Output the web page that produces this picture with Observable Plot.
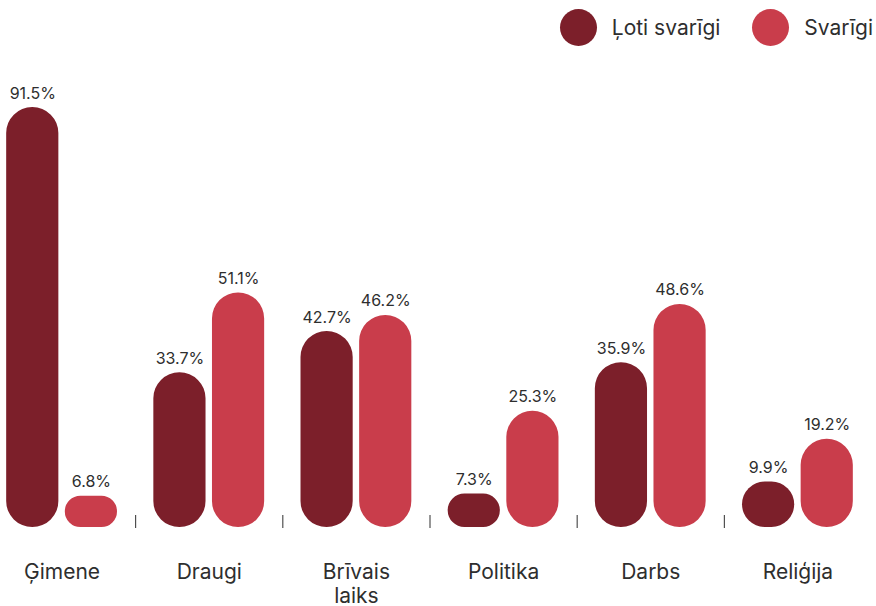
<!DOCTYPE html>
<html>
<head>
<meta charset="utf-8">
<script src="https://cdn.jsdelivr.net/npm/d3@7"></script>
<script src="https://cdn.jsdelivr.net/npm/@observablehq/plot@0.6"></script>
<style>
  html, body { margin: 0; padding: 0; background: #fff; }
  body { width: 876px; height: 606px; overflow: hidden; font-family: Inter, "Noto Sans", sans-serif; color: #2e2e2e; }
  #legend { height: 54px; display: flex; justify-content: flex-end; align-items: center; padding-right: 3px; box-sizing: border-box; }
  .item { display: flex; align-items: center; margin-left: 32px; font-size: 21px; }
  .dot { width: 37px; height: 37px; border-radius: 50%; margin-right: 15px; }
</style>
</head>
<body>
<div id="legend"></div>
<div id="chart"></div>
<script>
const categories = ["Ģimene", "Draugi", "Brīvais laiks", "Politika", "Darbs", "Reliģija"];
const series = ["Ļoti svarīgi", "Svarīgi"];
const veryImportant = [91.5, 33.7, 42.7, 7.3, 35.9, 9.9];
const important = [6.8, 51.1, 46.2, 25.3, 48.6, 19.2];
const colors = ["#7c1f2a", "#c93d4b"];

const data = categories.flatMap((c, i) => [
  {category: c, series: series[0], value: veryImportant[i]},
  {category: c, series: series[1], value: important[i]}
]);

// legend
const legend = document.getElementById("legend");
series.forEach((s, i) => {
  const item = document.createElement("div");
  item.className = "item";
  const dot = document.createElement("div");
  dot.className = "dot";
  dot.style.background = colors[i];
  const label = document.createElement("span");
  label.textContent = s;
  item.append(dot, label);
  legend.append(item);
});

const W = 876, H = 552, mTop = 14, mBottom = 79;
const tickLen = 12;

const chart = Plot.plot({
  width: W,
  height: H,
  marginTop: mTop,
  marginBottom: mBottom,
  marginLeft: 0,
  marginRight: 0,
  style: {fontFamily: "Inter, 'Noto Sans', sans-serif", color: "#2e2e2e", overflow: "visible"},
  fx: {domain: categories, range: [-12, 871], padding: 0, round: false, label: null},
  x: {domain: series, paddingInner: 0.11, paddingOuter: 0.31, round: false, axis: null},
  y: {domain: [0, 100], axis: null},
  color: {domain: series, range: colors},
  marks: [
    Plot.barY(data, {fx: "category", x: "series", y: "value", fill: "series", r: 26}),
    Plot.text(data, {
      fx: "category", x: "series", y: "value",
      text: d => d.value.toFixed(1) + "%",
      lineAnchor: "bottom", dy: -9, fontSize: 16, fill: "#2e2e2e"
    }),
    ...categories.slice(0, -1).map(c => Plot.frame({
      fx: () => c, anchor: "right", stroke: "#2e2e2e",
      insetTop: H - mTop - mBottom - tickLen
    })),
    Plot.axisFx({
      anchor: "bottom", tickSize: 0, tickPadding: 34, fontSize: 21,
      lineHeight: 1.15, fill: "#2e2e2e", label: null,
      tickFormat: d => d.replace(" ", "\n")
    })
  ]
});
document.getElementById("chart").append(chart);
</script>
</body>
</html>
